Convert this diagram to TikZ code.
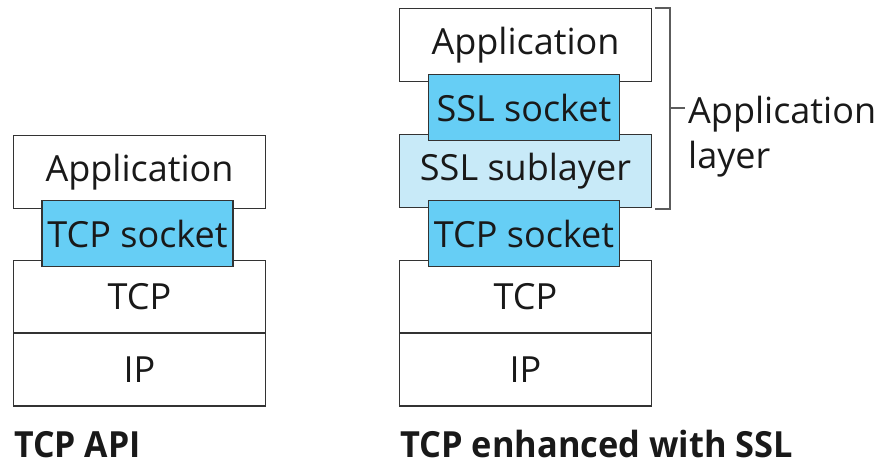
\documentclass[tikz,border=0pt]{standalone}
\usepackage{fontspec}
\setmainfont{Open Sans}
\definecolor{sockblue}{HTML}{66CEF5}
\definecolor{sublblue}{HTML}{C8EAF8}
\definecolor{edge}{HTML}{333333}
\begin{document}
\begin{tikzpicture}[x=1pt,y=-1pt,
  layer/.style={draw=edge, line width=1.6pt, fill=white, inner sep=0pt,
    font=\fontsize{36}{40}\selectfont, text=black!90},
  wide/.style={layer, minimum width=252pt, minimum height=73pt},
  sock/.style={layer, fill=sockblue, minimum width=191pt, minimum height=66pt},
  subl/.style={wide, fill=sublblue},
  caption/.style={anchor=base west, inner sep=0pt, font=\fontsize{36}{40}\selectfont\bfseries, text=black!90},
  brk/.style={draw=edge!80, line width=1.3pt}]
\useasboundingbox (0,0) rectangle (887,464);
% left stack
\node[wide] (appL) at (139.5,172) {Application};
\node[wide] (tcpL) at (139.5,297) {TCP};
\node[wide] (ipL) at (139.5,369.5) {IP};
\node[sock] (tsL) at (137.5,233.5) {TCP socket};
\node[caption] (capL) at (14,457) {\scalebox{0.94}[1]{TCP API}};
% right stack
\node[wide] (appR) at (525.5,45) {Application};
\node[subl] (sublR) at (525.5,171) {SSL sublayer};
\node[wide] (tcpR) at (525.5,297) {TCP};
\node[wide] (ipR) at (525.5,369.5) {IP};
\node[sock] (ssR) at (524,107.5) {SSL socket};
\node[sock] (tsR) at (524,233.5) {TCP socket};
\node[caption] (capR) at (400,457) {\scalebox{0.955}[1]{TCP enhanced with SSL}};
% bracket
\coordinate (bt) at (655,8);
\coordinate (bb) at (655,209);
\coordinate (bm) at (670,108);
\draw[brk] (bt) -- (670,8) -- (670,209) -- (bb);
\draw[brk] (bm) -- ++(15,0) coordinate (bmr);
\node[anchor=north west, inner sep=0pt, align=left,
  font=\fontsize{36}{45}\selectfont, text=black!90] (applayer) at (688,96) {Application\\layer};
\end{tikzpicture}
\end{document}
